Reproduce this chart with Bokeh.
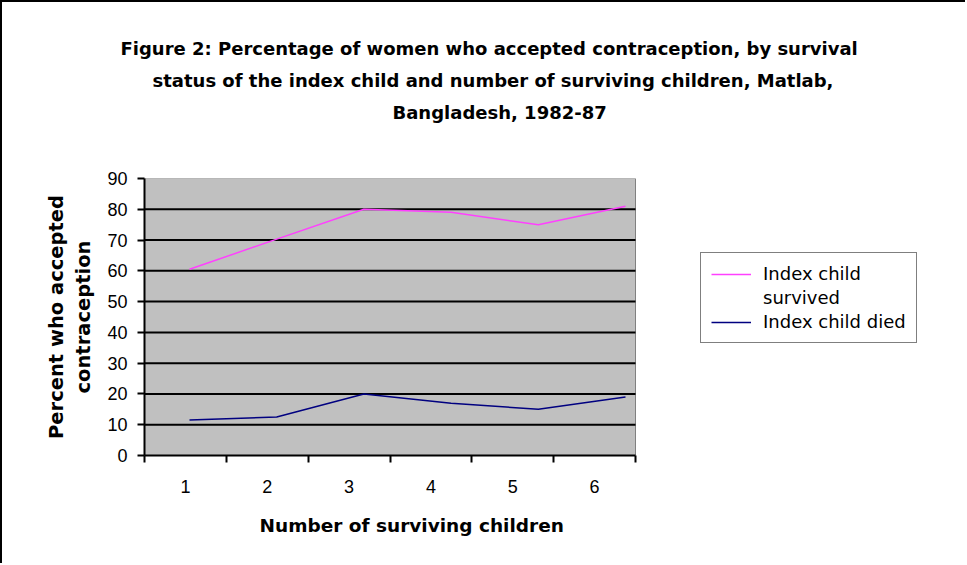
from bokeh.plotting import figure
from bokeh.models import (Range1d, FixedTicker, Legend, LegendItem, ColumnDataSource, Title)
from bokeh.embed import file_html
from bokeh.resources import INLINE

# ---- data ----
children = [1, 2, 3, 4, 5, 6]
tick_labels = ["1", "2", "3", "4", "5", "6"]
survived = [60.5, 70.3, 80, 79, 75, 81]
died = [11.5, 12.5, 20, 17, 15, 19]
y_ticks = [0, 10, 20, 30, 40, 50, 60, 70, 80, 90]
title_lines = [
    "Figure 2: Percentage of women who accepted contraception, by survival",
    "status of the index child and number of surviving children, Matlab,",
    "Bangladesh, 1982-87",
]
x_title = "Number of surviving children"
y_title = "Percent who accepted\ncontraception"
series_names = ["Index child", "survived", "Index child died"]

# ---- layout (pixels) ----
W, H = 965, 563
BL, BR, BT, BB = 142, 7, 176, 110
frame_w = W - BL - BR
cat_px = 491 / 6           # width of one category slot on the axis
line_px = 87.2             # spacing of the plotted points
line_first = 45            # first point, px from frame left

x0 = children[0] - 0.5
x1 = children[-1] + 0.5
x_end = x0 + frame_w / cat_px
lx_start = children[0] - line_first / line_px
lx_end = lx_start + frame_w / line_px

p = figure(width=W, height=H, output_backend="svg", toolbar_location=None,
           x_range=Range1d(x0, x_end), y_range=Range1d(y_ticks[0], y_ticks[-1]),
           min_border_left=BL, min_border_right=BR,
           min_border_top=BT, min_border_bottom=BB,
           border_fill_color="white", background_fill_color="white")
p.styles = {"border-top": "2px solid black", "border-left": "2px solid black"}
p.outline_line_color = None
p.grid.visible = False
p.extra_x_ranges = {"lines": Range1d(lx_start, lx_end)}

# plot area and gridlines
p.quad(left=[x0], right=[x1], bottom=[y_ticks[0]], top=[y_ticks[-1]],
       fill_color="#C0C0C0", line_color="#808080", line_width=1)
gy = y_ticks[1:-1]
p.segment(x0=[x0] * len(gy), x1=[x1] * len(gy), y0=gy, y1=gy,
          line_color="black", line_width=2)

# x axis: labels at category centres, ticks at category boundaries
xa = p.xaxis[0]
xa.bounds = (x0, x1)
xa.ticker = FixedTicker(ticks=children, minor_ticks=[c - 0.5 for c in children] + [x1])
xa.major_label_overrides = {c: t for c, t in zip(children, tick_labels)}
xa.major_tick_line_color = None
xa.major_tick_out = 6
xa.minor_tick_line_color = "black"
xa.minor_tick_line_width = 2
xa.minor_tick_out = 7
xa.minor_tick_in = 0
xa.axis_line_color = "black"
xa.axis_line_width = 2
xa.major_label_standoff = 17
xa.major_label_text_font = "Liberation Sans"
xa.major_label_text_font_size = "18px"
xa.major_label_text_color = "black"

ya = p.yaxis[0]
ya.ticker = FixedTicker(ticks=y_ticks)
ya.minor_tick_line_color = None
ya.major_tick_line_color = "black"
ya.major_tick_line_width = 2
ya.major_tick_out = 7
ya.major_tick_in = 0
ya.axis_line_color = "black"
ya.axis_line_width = 2
ya.major_label_standoff = 10
ya.major_label_text_font = "Liberation Sans"
ya.major_label_text_font_size = "18px"
ya.major_label_text_color = "black"
ya.axis_label = y_title
ya.axis_label_text_font = "DejaVu Sans"
ya.axis_label_text_font_style = "bold"
ya.axis_label_text_font_size = "19.5px"
ya.axis_label_standoff = 9
ya.axis_label_text_color = "black"

# series
src = ColumnDataSource(dict(x=children, s=survived, d=died))
r1 = p.line("x", "s", source=src, line_color="#FF40FF", line_width=1.5, x_range_name="lines")
r2 = p.line("x", "d", source=src, line_color="#000080", line_width=1.5, x_range_name="lines")

legend = Legend(items=[
    LegendItem(label=series_names[0], renderers=[r1]),
    LegendItem(label=series_names[1], renderers=[]),
    LegendItem(label=series_names[2], renderers=[r2]),
], location=(556, 112))
legend.border_line_color = "black"
legend.border_line_width = 1.5
legend.background_fill_color = "white"
legend.background_fill_alpha = 1
legend.padding = 10
legend.spacing = 3
legend.margin = 0
legend.label_height = 20
legend.glyph_height = 20
legend.glyph_width = 40
legend.label_standoff = 12
legend.label_text_font = "DejaVu Sans"
legend.label_text_font_size = "18px"
legend.label_text_color = "black"
legend.label_text_baseline = "middle"
p.add_layout(legend, "center")

# x-axis title (below the tick labels)
p.add_layout(Title(text=x_title, align="left", offset=115, standoff=38,
                   vertical_align="top",
                   text_font="DejaVu Sans", text_font_style="bold",
                   text_font_size="18.5px", text_color="black"), "below")

# chart title: spacer nearest the frame, then lines bottom to top
p.add_layout(Title(text=" ", text_font_size="10px", standoff=38), "above")
offsets = [-24, 8, 248]
for txt, off in reversed(list(zip(title_lines, offsets))):
    p.add_layout(Title(text=txt, align="left", offset=off, standoff=8.5,
                       text_font="DejaVu Sans", text_font_style="bold",
                       text_font_size="18px", text_color="black"), "above")

open("out.html", "w").write(file_html(p, INLINE))
